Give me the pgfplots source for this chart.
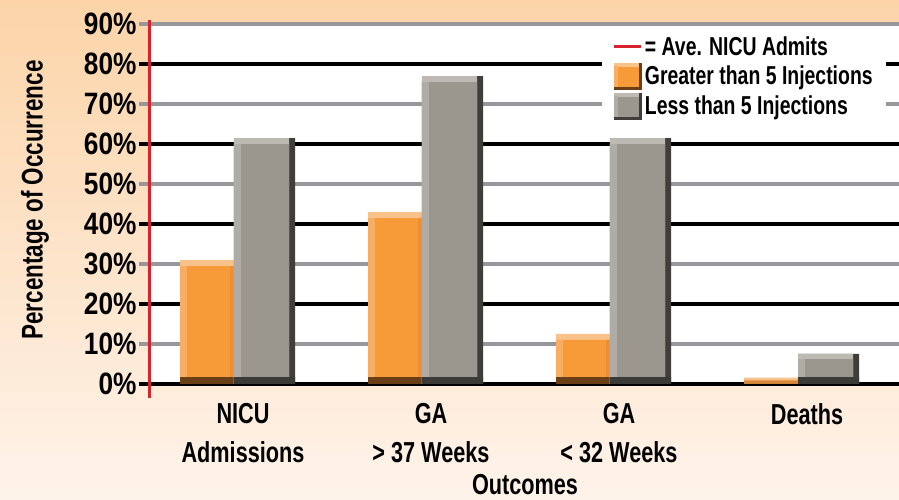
\documentclass[border=0pt]{standalone}
\usepackage{pgfplots}
\pgfplotsset{compat=1.18}
\usepackage{pgfplotstable}
\usepackage{fontspec}
\setmainfont{Liberation Sans}[FakeStretch=0.75]
\newfontfamily\tickfont{Liberation Sans}[FakeStretch=0.85]

\definecolor{bgtop}{HTML}{FCD4A8}
\definecolor{bgbot}{HTML}{FEF3EA}
\definecolor{orangeTop}{HTML}{F9C28B}
\definecolor{barorange}{HTML}{F79A38}
\definecolor{orangeLeft}{HTML}{F9AD62}
\definecolor{orangeRight}{HTML}{EC8F35}
\definecolor{orangeBottom}{HTML}{6A3F15}
\definecolor{orangeLow}{HTML}{D98A3A}
\definecolor{greyTop}{HTML}{BDBAB3}
\definecolor{greyFace}{HTML}{9B978F}
\definecolor{greyLeft}{HTML}{AFACA5}
\definecolor{greySide}{HTML}{403E3A}
\definecolor{greyBottom}{HTML}{3B3A36}
\definecolor{gridgrey}{HTML}{97979B}
\definecolor{reda}{HTML}{D8222E}

% o = Greater than 5 injections, g = Less than 5 injections (percent)
% of/gf = front-face heights, ob/gb = dark base band heights, ol = low band of tiny bar
\pgfplotstableread{
x o    of   ob  ol  g    gf   gb
0 31   29.5 1.7 0   61.5 60   1.7
1 43   41.5 1.7 0   77   75.5 1.7
2 12.5 11   1.7 0   61.5 60   1.7
3 1.6  0    0   0.9 7.5  6.2  1.7
}\data

\begin{document}
\bfseries
\begin{tikzpicture}
\useasboundingbox (0,0) rectangle (899bp,500bp);
\shade[top color=bgtop, bottom color=bgbot] (0,0) rectangle (899bp,500bp);
\begin{axis}[
  name=ax,
  at={(149bp,116bp)}, anchor=south west,
  scale only axis, width=752bp, height=360bp,
  xmin=-0.5, xmax=3.5, ymin=0, ymax=90,
  axis line style={draw=none},
  axis background/.style={fill=white},
  tick align=outside,
  major tick length=10bp,
  tick style={black, line width=3.5bp},
  xtick={0,1,2,3},
  xticklabels={NICU\\Admissions, GA\\> 37 Weeks, GA\\< 32 Weeks, Deaths},
  x tick style={draw=none},
  extra x ticks={0.5,1.5,2.5,3.5},
  extra x tick labels={},
  extra x tick style={major tick length=14bp, tick style={draw=reda, line width=3bp}},
  ytick={0,20,40,60,80},
  yticklabels={0\%,20\%,40\%,60\%,80\%},
  ymajorgrids,
  major grid style={black, line width=3.5bp},
  extra y ticks={10,30,50,70,90},
  extra y tick labels={10\%,30\%,50\%,70\%,90\%},
  extra y tick style={grid=major, major grid style={gridgrey, line width=3.5bp}, tick style={gridgrey, line width=3.5bp}},
  yticklabel style={font=\tickfont\bfseries\fontsize{31}{36}\selectfont, xshift=1bp},
  xticklabel style={align=center, yshift=-6bp, font=\bfseries\fontsize{29}{39}\selectfont},
  legend style={at={(rel axis cs:0.602,0.983)}, anchor=north west, fill=white, draw=none,
    inner xsep=11bp, inner ysep=4bp, row sep=4bp,
    font=\bfseries\fontsize{26}{30}\selectfont},
  legend cell align=left,
]
% Greater than 5 injections
\addplot[ybar, bar width=0.2872, bar shift=-0.1915, fill=orangeTop, draw=none, forget plot] table[x=x,y=o]{\data};
\addplot[ybar, bar width=0.2872, bar shift=-0.1915, fill=orangeLow, draw=none, forget plot] table[x=x,y=ol]{\data};
\addplot[ybar, bar width=0.2872, bar shift=-0.1915, fill=barorange, draw=none, forget plot] table[x=x,y=of]{\data};
\addplot[ybar, bar width=0.0372, bar shift=-0.3165, fill=orangeLeft, draw=none, forget plot] table[x=x,y=of]{\data};
\addplot[ybar, bar width=0.0213, bar shift=-0.0585, fill=orangeRight, draw=none, forget plot] table[x=x,y=of]{\data};
\addplot[ybar, bar width=0.2872, bar shift=-0.1915, fill=orangeBottom, draw=none, forget plot] table[x=x,y=ob]{\data};
% Less than 5 injections
\addplot[ybar, bar width=0.3245, bar shift=0.1144, fill=greySide, draw=none, forget plot] table[x=x,y=g]{\data};
\addplot[ybar, bar width=0.2926, bar shift=0.0984, fill=greyTop, draw=none, forget plot] table[x=x,y=g]{\data};
\addplot[ybar, bar width=0.2926, bar shift=0.0984, fill=greyFace, draw=none, forget plot] table[x=x,y=gf]{\data};
\addplot[ybar, bar width=0.0372, bar shift=-0.0293, fill=greyLeft, draw=none, forget plot] table[x=x,y=gf]{\data};
\addplot[ybar, bar width=0.3245, bar shift=0.1144, fill=greyBottom, draw=none, forget plot] table[x=x,y=gb]{\data};

\addlegendimage{legend image code/.code={\draw[reda, line width=3bp] (0bp,0bp) -- (27bp,0bp);}}
\addlegendentry{= Ave. NICU Admits}
\addlegendimage{legend image code/.code={
  \fill[orangeBottom] (0bp,-13bp) rectangle (27bp,13bp);
  \fill[barorange] (0bp,-10bp) rectangle (24bp,13bp);
  \fill[orangeTop] (0bp,10bp) rectangle (24bp,13bp);
  \fill[orangeLeft] (0bp,-10bp) rectangle (3bp,10bp);}}
\addlegendentry{Greater than 5 Injections}
\addlegendimage{legend image code/.code={
  \fill[greySide] (0bp,-13bp) rectangle (27bp,13bp);
  \fill[greyFace] (0bp,-10bp) rectangle (24bp,13bp);
  \fill[greyTop] (0bp,10bp) rectangle (24bp,13bp);
  \fill[greyLeft] (0bp,-10bp) rectangle (3bp,10bp);}}
\addlegendentry{Less than 5 Injections}
\end{axis}
\draw[reda, line width=3bp] ([yshift=-14bp]ax.south west) -- ([yshift=4bp]ax.north west);
\node[rotate=90, font=\bfseries\fontsize{30}{34}\selectfont] at (35bp,300bp) {Percentage of Occurrence};
\node[font=\bfseries\fontsize{29}{33}\selectfont] at (525bp,15bp) {Outcomes};
\end{tikzpicture}
\end{document}
